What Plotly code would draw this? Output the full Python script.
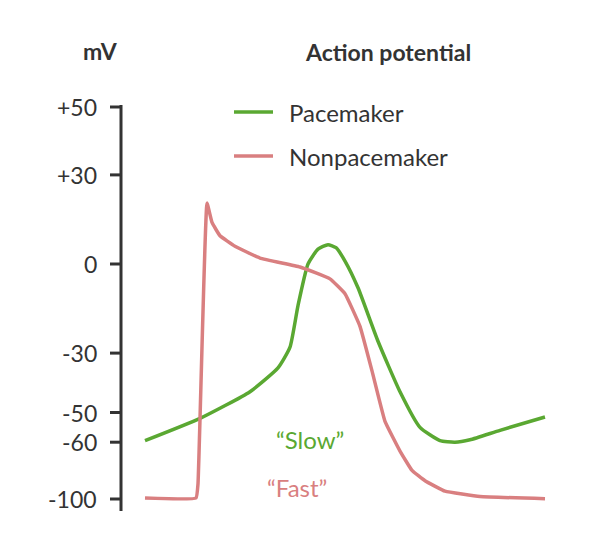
import plotly.graph_objects as go

PX0, PXS = 265.0, 2.97
def mv(py): return (PX0 - py) / PXS

tick_labels = ["+50", "+30", "0", "-30", "-50", "-60", "-100"]
tick_pos = [mv(108), 30, 0, -30, -50, -60, mv(500)]

pace_t = [145, 200, 250, 278, 290, 298, 308, 318, 328, 336, 345, 358, 378, 400, 420, 440, 455, 470, 500, 545]
pace_v = [-59.5, -52, -43, -35, -28, -14, 0, 5, 6.5, 5.5, 1, -8, -26, -43, -55, -59.5, -60, -59.2, -56, -51.5]
fast_t = [145, 196, 198, 207, 212, 220, 235, 260, 300, 330, 345, 360, 372, 385, 400, 412, 425, 445, 480, 545]
fast_v = [-78.8, -78.8, -74, 20.5, 14, 9.5, 6, 2, -1, -5, -10, -21, -36, -53, -63, -69.5, -73, -76.5, -78.3, -79]

fig = go.Figure()
fig.add_trace(go.Scatter(x=pace_t, y=pace_v, mode="lines", line=dict(color="#5aa832", width=3.5, shape="spline", smoothing=0.5)))
fig.add_trace(go.Scatter(x=fast_t, y=fast_v, mode="lines", line=dict(color="#d97f80", width=3.5, shape="spline", smoothing=0.3)))

font = dict(family="Lato", size=23, color="#333")
shapes = [dict(type="line", x0=121, x1=121, y0=mv(106), y1=mv(512), line=dict(color="#333", width=3))]
ann = []
for t, p in zip(tick_labels, tick_pos):
    shapes.append(dict(type="line", x0=110, x1=121, y0=p, y1=p, line=dict(color="#333", width=3)))
    ann.append(dict(x=99, y=p, text=t, showarrow=False, xanchor="right", yanchor="middle", font=font))
ann.append(dict(x=100, y=mv(52), text="<b>mV</b>", showarrow=False, xanchor="center", font=font))
ann.append(dict(x=388, y=mv(53), text="<b>Action potential</b>", showarrow=False, xanchor="center", font=font))
for py, col, lab in [(113, "#5aa832", "Pacemaker"), (157, "#d97f80", "Nonpacemaker")]:
    shapes.append(dict(type="line", x0=234, x1=273, y0=mv(py), y1=mv(py), line=dict(color=col, width=3.5)))
    ann.append(dict(x=287, y=mv(py), text=lab, showarrow=False, xanchor="left", font=dict(family="Lato", size=24, color="#333")))
ann.append(dict(x=310, y=mv(440), text="“Slow”", showarrow=False, font=dict(family="Lato", size=24, color="#5aa832")))
ann.append(dict(x=297, y=mv(488), text="“Fast”", showarrow=False, font=dict(family="Lato", size=24, color="#d97f80")))

# compensate for the page's 8px body offset
fig.update_layout(width=598, height=558, margin=dict(l=0, r=0, t=0, b=0), showlegend=False,
                  paper_bgcolor="white", plot_bgcolor="white", shapes=shapes, annotations=ann,
                  xaxis=dict(range=[8, 606], visible=False), yaxis=dict(range=[mv(567), mv(9)], visible=False))
fig.write_html("out.html")
